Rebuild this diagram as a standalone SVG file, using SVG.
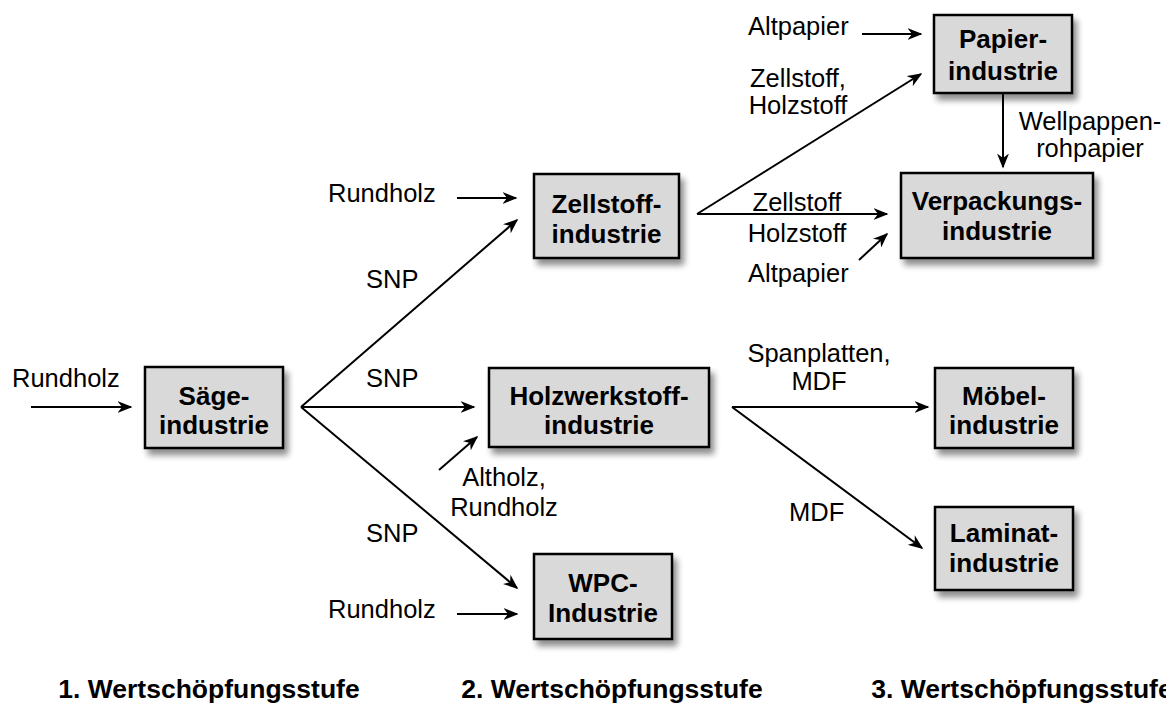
<svg xmlns="http://www.w3.org/2000/svg" width="1166" height="710" viewBox="0 0 1166 710">
  <style>
    .box { fill: #d9d9d9; stroke: #000; stroke-width: 2.5; filter: url(#shadow); }
    .nt { font-family: "Liberation Sans", Arial, sans-serif; font-weight: bold; font-size: 26px; fill: #000; text-anchor: middle; }
    .lb { font-family: "Liberation Sans", Arial, sans-serif; font-size: 25.5px; fill: #000; }
    .mid { text-anchor: middle; }
    .stage { font-family: "Liberation Sans", Arial, sans-serif; font-weight: bold; font-size: 26.5px; fill: #000; text-anchor: middle; }
    .edge { fill: none; stroke: #000; stroke-width: 2; marker-end: url(#arrow); }
  </style>
  <defs>
    <filter id="shadow" x="-20%" y="-20%" width="150%" height="160%">
      <feGaussianBlur in="SourceAlpha" stdDeviation="3"/>
      <feOffset dx="4" dy="6" result="b"/>
      <feComponentTransfer><feFuncA type="linear" slope="0.45"/></feComponentTransfer>
      <feMerge><feMergeNode/><feMergeNode in="SourceGraphic"/></feMerge>
    </filter>
    <marker id="arrow" viewBox="0 0 20 16" refX="18" refY="8" markerWidth="15" markerHeight="12" markerUnits="userSpaceOnUse" orient="auto">
      <path d="M0,0 L20,8 L0,16 L6,8 Z" fill="#000"/>
    </marker>
  </defs>

  <rect width="1166" height="710" fill="#fff"/>

  <!-- connectors -->
  <g id="connectors">
    <line class="edge" x1="31" y1="407" x2="131" y2="407"/>
    <line class="edge" x1="457" y1="198" x2="516" y2="198"/>
    <line class="edge" x1="301" y1="407" x2="517" y2="220"/>
    <line class="edge" x1="301" y1="407" x2="474" y2="407"/>
    <line class="edge" x1="301" y1="407" x2="517" y2="588"/>
    <line class="edge" x1="457" y1="614" x2="517" y2="614"/>
    <line class="edge" x1="439" y1="470" x2="477" y2="437"/>
    <line class="edge" x1="697" y1="214" x2="921" y2="74"/>
    <line class="edge" x1="697" y1="214" x2="887" y2="214"/>
    <line class="edge" x1="859" y1="260" x2="887" y2="234"/>
    <line class="edge" x1="862" y1="34" x2="921" y2="34"/>
    <line class="edge" x1="1003" y1="93" x2="1003" y2="167"/>
    <line class="edge" x1="732" y1="407" x2="928" y2="407"/>
    <line class="edge" x1="732" y1="407" x2="922" y2="548"/>
  </g>

  <!-- connector labels -->
  <g id="labels">
    <text class="lb" x="12" y="387">Rundholz</text>
    <text class="lb" x="328" y="202">Rundholz</text>
    <text class="lb" x="366" y="288">SNP</text>
    <text class="lb" x="366" y="387">SNP</text>
    <text class="lb" x="366" y="542">SNP</text>
    <text class="lb" x="328" y="618">Rundholz</text>
    <text class="lb mid" x="504" y="486">Altholz,</text>
    <text class="lb mid" x="504" y="516">Rundholz</text>
    <text class="lb" x="748" y="35">Altpapier</text>
    <text class="lb mid" x="798" y="87">Zellstoff,</text>
    <text class="lb mid" x="798" y="114">Holzstoff</text>
    <text class="lb mid" x="797" y="211">Zellstoff</text>
    <text class="lb mid" x="797" y="242">Holzstoff</text>
    <text class="lb" x="748" y="282">Altpapier</text>
    <text class="lb mid" x="1090" y="130">Wellpappen-</text>
    <text class="lb mid" x="1090" y="157">rohpapier</text>
    <text class="lb mid" x="819" y="362">Spanplatten,</text>
    <text class="lb mid" x="819" y="390">MDF</text>
    <text class="lb" x="789" y="521">MDF</text>
  </g>

  <!-- nodes -->
  <g id="saege">
    <rect class="box" x="145" y="367" width="138" height="81"/>
    <text class="nt" x="214" y="405">Säge-</text>
    <text class="nt" x="214" y="434">industrie</text>
  </g>
  <g id="zellstoff">
    <rect class="box" x="534" y="174" width="145" height="84"/>
    <text class="nt" x="606.5" y="213">Zellstoff-</text>
    <text class="nt" x="606.5" y="243">industrie</text>
  </g>
  <g id="holzwerkstoff">
    <rect class="box" x="489" y="368" width="220" height="79"/>
    <text class="nt" x="599" y="405">Holzwerkstoff-</text>
    <text class="nt" x="599" y="434">industrie</text>
  </g>
  <g id="wpc">
    <rect class="box" x="534" y="554" width="138" height="85"/>
    <text class="nt" x="603" y="592">WPC-</text>
    <text class="nt" x="603" y="622">Industrie</text>
  </g>
  <g id="papier">
    <rect class="box" x="934" y="15" width="138" height="78"/>
    <text class="nt" x="1003" y="48">Papier-</text>
    <text class="nt" x="1003" y="80">industrie</text>
  </g>
  <g id="verpackung">
    <rect class="box" x="901" y="173" width="192" height="85"/>
    <text class="nt" x="997" y="210">Verpackungs-</text>
    <text class="nt" x="997" y="240">industrie</text>
  </g>
  <g id="moebel">
    <rect class="box" x="935" y="368" width="138" height="80"/>
    <text class="nt" x="1004" y="405">Möbel-</text>
    <text class="nt" x="1004" y="434">industrie</text>
  </g>
  <g id="laminat">
    <rect class="box" x="935" y="507" width="138" height="83"/>
    <text class="nt" x="1004" y="542">Laminat-</text>
    <text class="nt" x="1004" y="572">industrie</text>
  </g>

  <!-- value chain stages -->
  <g id="stages">
    <text class="stage" x="209" y="698">1. Wertschöpfungsstufe</text>
    <text class="stage" x="612" y="698">2. Wertschöpfungsstufe</text>
    <text class="stage" x="1022" y="698">3. Wertschöpfungsstufe</text>
  </g>
</svg>
